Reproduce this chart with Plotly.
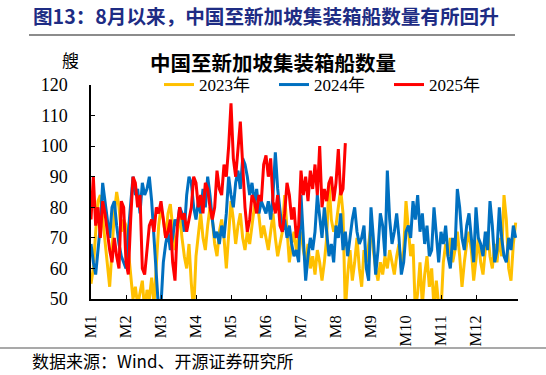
import plotly.graph_objects as go

# ---- data (2-day sampling) ----
series_names = ["2023年", "2024年", "2025年"]
month_labels = ["M1", "M2", "M3", "M4", "M5", "M6", "M7", "M8", "M9", "M10", "M11", "M12"]

ships_2023 = [
    55, 60, 72, 82, 84, 76, 68, 60, 54, 66, 78, 85, 80, 72, 76,
    74, 66, 56, 50, 54, 48, 52, 56, 46, 53, 50, 57, 48, 62, 74,
    80, 76, 70, 78, 81, 74, 66, 72, 78, 70, 64, 60, 68, 55, 46,
    64, 72, 78, 70, 66, 74, 80, 76, 68, 64, 72, 76, 70, 60, 72,
    82, 76, 68, 74, 78, 70, 66, 72, 68, 74, 80, 84, 76, 70, 74,
    70, 66, 72, 78, 70, 64, 68, 72, 84, 74, 62, 68, 72, 66, 70,
    72, 66, 62, 68, 60, 64, 58, 66, 62, 56, 62, 70, 88, 76, 72,
    74, 80, 86, 78, 46, 58, 66, 56, 62, 70, 60, 54, 66, 62, 68,
    74, 66, 60, 56, 62, 58, 64, 60, 66, 62, 58, 64, 68, 60, 66,
    82, 74, 64, 68, 46, 52, 62, 48, 58, 64, 54, 60, 47, 56, 48,
    46, 62, 68, 64, 70, 62, 66, 72, 64, 54, 62, 68, 72, 66, 56,
    64, 70, 62, 58, 66, 72, 64, 60, 68, 62, 70, 64, 84, 76, 60,
    56, 68, 75,
]

ships_2024 = [
    68, 62, 58, 66, 74, 88, 82, 76, 70, 80, 82, 74, 68, 64, 62,
    60, 72, 82, 90, 84, 86, 78, 88, 84, 86, 90, 82, 70, 58, 46,
    48, 62, 68, 72, 66, 70, 76, 74, 80, 78, 72, 84, 90, 88, 80,
    76, 82, 78, 86, 80, 90, 84, 76, 70, 72, 68, 74, 70, 78, 90,
    84, 80, 88, 92, 86, 96, 94, 90, 84, 88, 82, 86, 78, 82, 80,
    78, 82, 76, 84, 98, 86, 78, 72, 76, 70, 74, 68, 64, 66, 62,
    84, 70, 56, 64, 70, 66, 72, 84, 76, 70, 80, 72, 64, 68, 62,
    74, 70, 78, 66, 72, 64, 70, 76, 80, 72, 68, 70, 74, 60, 56,
    80, 70, 58, 66, 78, 74, 64, 92, 76, 68, 72, 78, 70, 58, 62,
    72, 74, 70, 82, 76, 84, 72, 78, 68, 74, 64, 66, 80, 72, 62,
    72, 68, 74, 64, 60, 70, 66, 86, 80, 70, 66, 74, 78, 70, 62,
    80, 70, 68, 64, 72, 66, 82, 74, 62, 66, 80, 70, 64, 62, 70,
    66, 74, 70,
]

ships_2025 = [
    76, 90, 74, 80, 70, 82, 78, 72, 66, 62, 70, 64, 60, 82, 80,
    62, 58, 76, 90, 88, 80, 84, 60, 58, 66, 74, 76, 72, 80, 78,
    82, 76, 70, 72, 76, 62, 56, 74, 80, 76, 78, 72, 76, 80, 90,
    88, 80, 84, 78, 88, 86, 80, 76, 80, 92, 86, 84, 94, 90, 100,
    114, 96, 90, 98, 108, 94, 80, 72, 76, 84, 82, 78, 84, 82, 94,
    97, 90, 96, 82, 78, 84, 74, 72, 78, 88, 84, 76, 80, 70, 74,
    92, 84, 90, 82, 92, 86, 94, 84, 100, 80, 86, 82, 88, 90, 82,
    88, 99, 84, 86, 101,
]

colors = ["#FFC000", "#0070C0", "#FF0000"]
all_series = [ships_2023, ships_2024, ships_2025]

# ---- layout geometry (reference pixels) ----
W, H = 546, 375
L, R, T, B = 91, 28, 85, 76
PW, PH = W - L - R, H - T - B


def px(x):
    return (x - L) / PW


def py(y):
    return (H - B - y) / PH


fig = go.Figure()
for name, vals, col in zip(series_names, all_series, colors):
    days = [2 * i for i in range(len(vals))]
    fig.add_trace(go.Scatter(
        x=days, y=vals, name=name, mode="lines",
        line=dict(color=col, width=3),
    ))

serif = "Liberation Serif"
cjk = "Noto Sans CJK SC"

fig.update_layout(
    width=W, height=H,
    margin=dict(l=L, r=R, t=T, b=B, pad=0),
    paper_bgcolor="white", plot_bgcolor="white",
    showlegend=True,
    legend=dict(
        orientation="h", x=px(159), y=1.0, xanchor="left", yanchor="middle",
        font=dict(family=serif + ", " + cjk, size=17, color="black"),
        bgcolor="rgba(0,0,0,0)", entrywidth=70, entrywidthmode="pixels",
        itemwidth=30, tracegroupgap=0,
    ),
    xaxis=dict(
        range=[0, 366], tickmode="array",
        tickvals=[30 * i for i in range(12)], ticktext=month_labels,
        tickangle=-90, ticks="inside", ticklen=4, tickcolor="black",
        ticklabelstandoff=8,
        showline=True, linecolor="black", linewidth=1.5,
        showgrid=False, zeroline=False,
        tickfont=dict(family=serif, size=16.5, color="black"),
    ),
    yaxis=dict(
        range=[50, 120], tickmode="array", tickvals=list(range(50, 121, 10)),
        ticks="inside", ticklen=4, tickcolor="black",
        ticklabelstandoff=18,
        showline=True, linecolor="black", linewidth=1.5,
        showgrid=False, zeroline=False,
        tickfont=dict(family=serif, size=18, color="black"),
    ),
)

ann = [
    dict(text="<b>图13：8月以来，中国至新加坡集装箱船数量有所回升</b>",
         x=px(31), y=py(16), xanchor="left", yanchor="middle",
         font=dict(family=cjk, size=19.6, color="#1E2C84")),
    dict(text="<b>中国至新加坡集装箱船数量</b>",
         x=px(273), y=py(62), xanchor="center", yanchor="middle",
         font=dict(family=cjk, size=20.5, color="black")),
    dict(text="艘", x=px(70), y=py(59), xanchor="center", yanchor="middle",
         font=dict(family=cjk, size=17, color="black")),
    dict(text="数据来源：Wind、开源证券研究所",
         x=px(30), y=py(360), xanchor="left", yanchor="middle",
         font=dict(family=cjk, size=17, color="black")),
]
for a in ann:
    a.update(xref="paper", yref="paper", showarrow=False)
fig.update_layout(annotations=ann)

fig.update_layout(shapes=[
    dict(type="line", xref="paper", yref="paper", x0=px(29), x1=px(515),
         y0=py(35), y1=py(35), line=dict(color="#8C8C8C", width=2)),
    dict(type="line", xref="paper", yref="paper", x0=px(0), x1=px(546),
         y0=py(348), y1=py(348), line=dict(color="#8C8C8C", width=1.5)),
])

fig.write_html("out.html", config={"displayModeBar": False},
               post_script="document.body.style.margin='0px';")
